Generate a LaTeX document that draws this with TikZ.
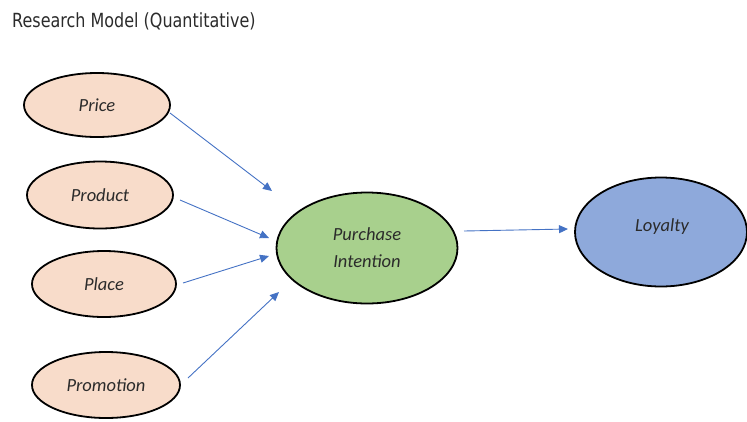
\documentclass[tikz,border=0pt]{standalone}
\usepackage{fontspec}
\setmainfont{Carlito}
\newfontfamily\titlefont{DejaVu Sans}
\usetikzlibrary{shapes.geometric,arrows.meta}
\definecolor{peach}{HTML}{F8DCCA}
\definecolor{pgreen}{HTML}{A8D08D}
\definecolor{pblue}{HTML}{8EA9DB}
\definecolor{arrblue}{HTML}{4472C4}
\definecolor{txt}{HTML}{2B2B2B}
\begin{document}
\begin{tikzpicture}[x=1pt,y=-1pt,
  oval/.style={ellipse,draw=black,line width=1.8pt,inner sep=0pt,text=txt,
    font=\fontsize{18.5}{27}\selectfont\itshape,align=center},
  arr/.style={draw=arrblue,line width=0.9pt,-{Triangle[length=9pt,width=8pt]}}]
\useasboundingbox (0,0) rectangle (747,421);
\node[anchor=base west,inner sep=0pt,text=txt] (title) at (12,27)
  {\titlefont\fontsize{19.5}{22}\selectfont\scalebox{0.82}[1]{Research Model (Quantitative)}};
\node[oval,fill=peach,minimum width=146pt,minimum height=64pt] (price) at (97,105) {Price};
\node[oval,fill=peach,minimum width=146pt,minimum height=67pt] (product) at (100,195) {Product};
\node[oval,fill=peach,minimum width=144pt,minimum height=66pt] (place) at (104,284) {Place};
\node[oval,fill=peach,minimum width=148pt,minimum height=66pt] (promo) at (106,385) {Promotion};
\node[oval,fill=pgreen,minimum width=181pt,minimum height=111pt] (pi) at (367,248) {Purchase\\Intention};
\node[oval,fill=pblue,minimum width=172pt,minimum height=109pt,text depth=0pt] (loy) at (661,232) {};
\node[text=txt,font=\fontsize{18.5}{27}\selectfont\itshape] (loylab) at (662,227) {Loyalty};
\coordinate (a1) at (170,113); \coordinate (b1) at (272,191);
\coordinate (a2) at (180,200); \coordinate (b2) at (269,238);
\coordinate (a3) at (183,283); \coordinate (b3) at (269,256);
\coordinate (a4) at (188,378); \coordinate (b4) at (279,292);
\coordinate (a5) at (464,231); \coordinate (b5) at (568,229);
\draw[arr] (a1) -- (b1);
\draw[arr] (a2) -- (b2);
\draw[arr] (a3) -- (b3);
\draw[arr] (a4) -- (b4);
\draw[arr] (a5) -- (b5);
\end{tikzpicture}
\end{document}
